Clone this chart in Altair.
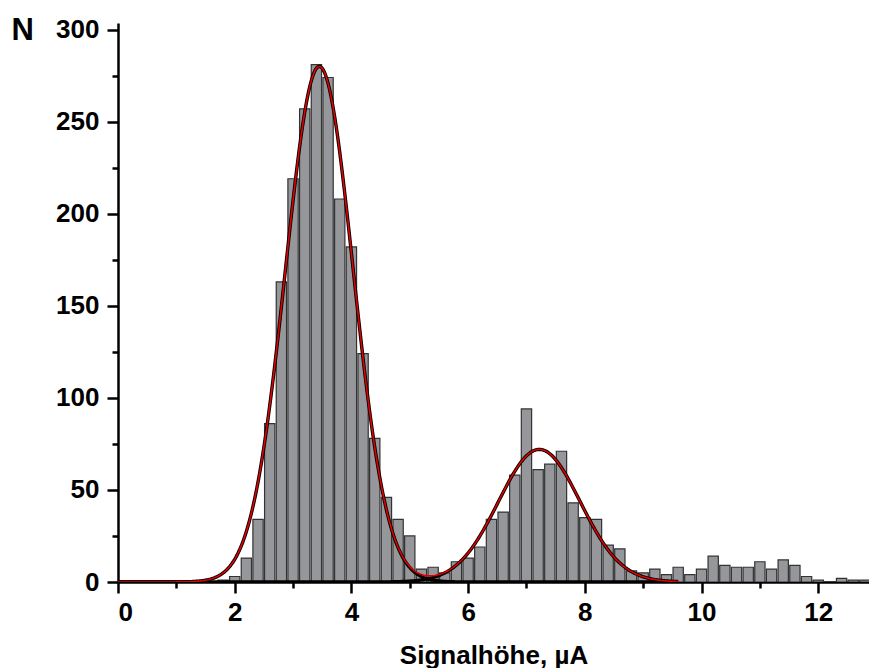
import altair as alt
import pandas as pd

# histogram bins (centers, width 0.2) and counts
bin_centers = [1.8, 2.0, 2.2, 2.4, 2.6, 2.8, 3.0, 3.2, 3.4, 3.6, 3.8, 4.0, 4.2, 4.4, 4.6, 4.8,
               5.0, 5.2, 5.4, 5.6, 5.8, 6.0, 6.2, 6.4, 6.6, 6.8, 7.0, 7.2, 7.4, 7.6, 7.8,
               8.0, 8.2, 8.4, 8.6, 8.8, 9.0, 9.2, 9.4, 9.6, 9.8, 10.0, 10.2, 10.4, 10.6,
               10.8, 11.0, 11.2, 11.4, 11.6, 11.8, 12.0, 12.2, 12.4, 12.6, 12.8]
counts = [1, 3, 13, 34, 86, 163, 219, 257, 281, 274, 208, 182, 124, 78, 46, 34,
          25, 7, 8, 5, 11, 13, 19, 34, 38, 58, 94, 61, 64, 71, 43,
          35, 34, 20, 18, 6, 5, 7, 4, 8, 4, 7, 14, 9, 8,
          8, 11, 7, 12, 9, 3, 1, 0, 2, 1, 1]

# Gaussian fit parameters
peak_centers = [3.45, 7.22]
peak_sigmas = [0.58, 0.70]
peak_amplitudes = [280, 72]
fit_range = [0.0, 9.6]

x_ticks = list(range(0, 13))
y_ticks = list(range(0, 301, 25))

hist = pd.DataFrame({"x": bin_centers, "n": counts})

XMAX = 12.87
YMAX = 303.6
FONT = "Liberation Sans"

xscale = alt.Scale(domain=[0, XMAX], nice=False, zero=False, padding=0)
yscale = alt.Scale(domain=[0, YMAX], nice=False)

x_axis = alt.Axis(
    values=x_ticks, format="d",
    labelExpr="datum.value % 2 === 0 ? datum.label : ''",
    tickSize={"condition": {"test": "datum.value % 2 === 1", "value": 6}, "value": 11},
    tickWidth=2.5, tickColor="black", domainWidth=2.5, domainColor="black",
    labelFont=FONT, labelFontSize=26, labelFontWeight="bold", labelColor="black",
    labelPadding=6, grid=False,
    title="Signalhöhe, µA", titleFont=FONT, titleFontSize=26, titleFontWeight="bold",
    titleColor="black", titleBaseline="alphabetic", titleY=81,
)
y_axis = alt.Axis(
    values=y_ticks, format="d",
    labelExpr="datum.value % 50 === 0 ? datum.label : ''",
    tickSize={"condition": {"test": "datum.value % 50 === 25", "value": 6}, "value": 11},
    tickWidth=2.5, tickColor="black", domainWidth=2.5, domainColor="black",
    labelFont=FONT, labelFontSize=26, labelFontWeight="bold", labelColor="black",
    labelPadding=8, grid=False,
    title="N", titleFont=FONT, titleFontSize=31, titleFontWeight="bold", titleColor="black",
    titleAngle=0, titleAlign="left", titleBaseline="alphabetic", titleX=-107, titleY=16,
)

bars = alt.Chart(hist).mark_bar(
    size=10.3, fill="#96979b", stroke="#333333", strokeWidth=1.2, clip=True
).encode(
    x=alt.X("x:Q", scale=xscale, axis=x_axis),
    y=alt.Y("n:Q", scale=yscale, axis=y_axis),
)

base_curve = alt.Chart(alt.sequence(fit_range[0], fit_range[1] + 0.001, 0.02, as_="x")).transform_calculate(
    g1=f"{peak_amplitudes[0]} * exp(-pow(datum.x - {peak_centers[0]}, 2) / (2 * {peak_sigmas[0]} * {peak_sigmas[0]}))",
    g2=f"{peak_amplitudes[1]} * exp(-pow(datum.x - {peak_centers[1]}, 2) / (2 * {peak_sigmas[1]} * {peak_sigmas[1]}))",
)

components = base_curve.transform_fold(["g1", "g2"], as_=["comp", "y"]).mark_line(
    color="black", strokeWidth=3.4, clip=True
).encode(
    x=alt.X("x:Q", scale=xscale),
    y=alt.Y("y:Q", scale=yscale),
    detail="comp:N",
)

total = base_curve.transform_calculate(s="datum.g1 + datum.g2").mark_line(
    color="#e00000", strokeWidth=1.6, clip=True
).encode(
    x=alt.X("x:Q", scale=xscale),
    y=alt.Y("s:Q", scale=yscale),
)

chart = alt.layer(bars, components, total).properties(
    width=751, height=559,
    padding={"left": 118, "top": 23, "right": 0, "bottom": 86},
    autosize="none",
    background="white",
).configure_view(stroke=None)

chart.save("out.html", embed_options={"renderer": "svg", "actions": False})
